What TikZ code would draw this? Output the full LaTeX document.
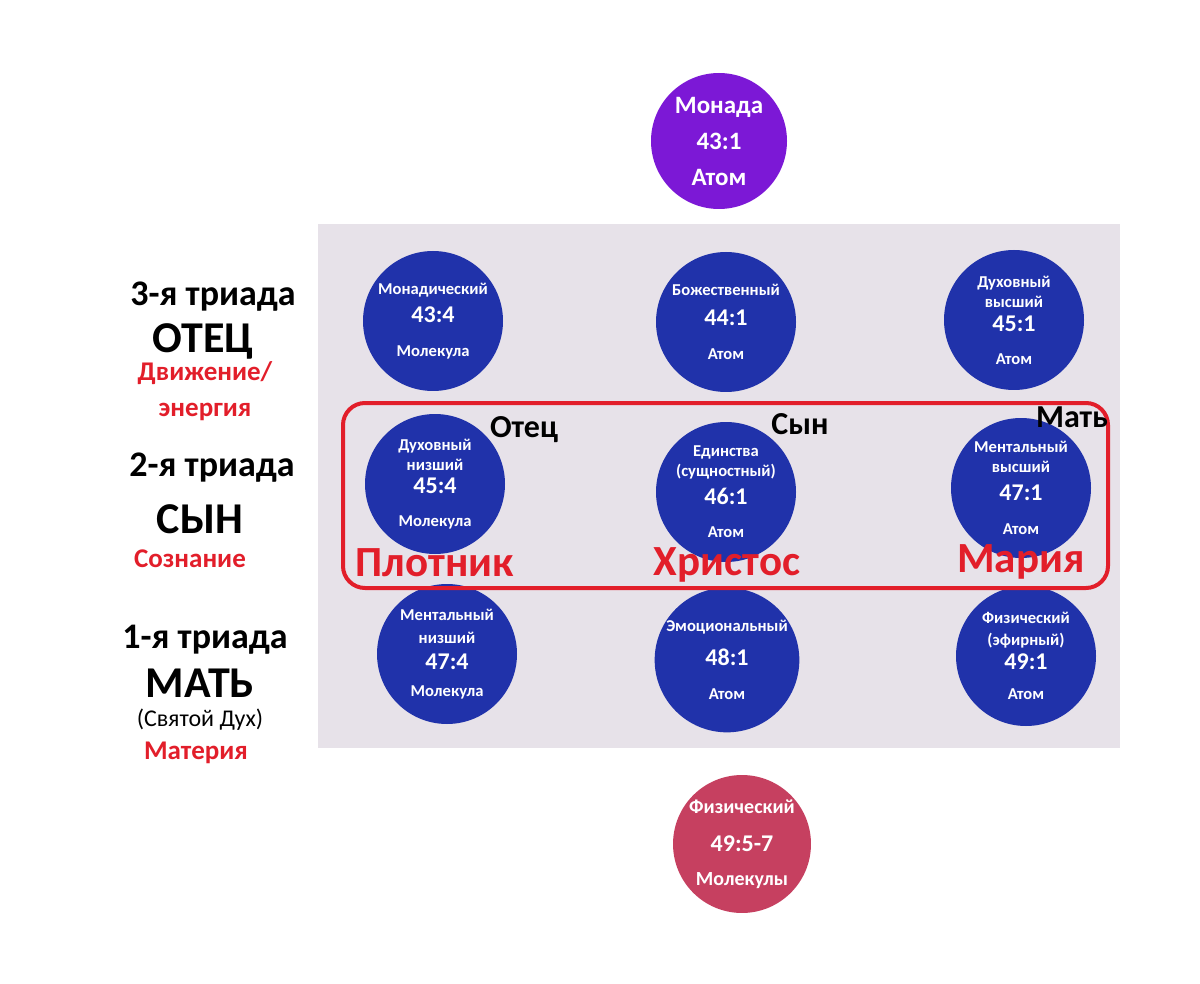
\documentclass[tikz,border=0pt]{standalone}
\usepackage{fontspec}
\setmainfont{Carlito}
\usetikzlibrary{positioning}
\definecolor{monadColor}{RGB}{124,24,214}
\definecolor{planeColor}{RGB}{32,50,170}
\definecolor{molColor}{RGB}{198,64,96}
\definecolor{panelColor}{RGB}{231,226,233}
\definecolor{accentColor}{RGB}{226,30,42}
\tikzstyle{plane} = [circle, minimum size=70pt, inner sep=0pt, align=center, fill=planeColor, text=white, font=\bfseries\fontsize{8.3}{10}\selectfont]
\tikzstyle{monad} = [plane, minimum size=68pt, fill=monadColor, font=\bfseries\fontsize{12.5}{12}\selectfont]
\tikzstyle{dense} = [plane, minimum size=68pt, fill=molColor, font=\bfseries\fontsize{10}{11}\selectfont]
\tikzstyle{triad} = [font=\bfseries\fontsize{18}{20}\selectfont]
\tikzstyle{person} = [inner sep=1pt, font=\bfseries\fontsize{22}{24}\selectfont]
\tikzstyle{quality} = [text=accentColor, align=center, font=\bfseries\fontsize{13.5}{18}\selectfont]
\tikzstyle{rolelabel} = [font=\bfseries\fontsize{16}{18}\selectfont]
\tikzstyle{figname} = [text=accentColor, font=\bfseries\fontsize{21.5}{24}\selectfont]
\tikzstyle{frame} = [draw=accentColor, line width=2pt, rounded corners=11pt]
\newcommand{\pnum}[1]{{\fontsize{12}{10}\selectfont #1}}

\begin{document}
\begin{tikzpicture}[x=0.5pt, y=-0.5pt]
            \useasboundingbox (0,0) rectangle (1200,984);
            \fill [panelColor] (318,224) rectangle (1120,748);

            % monad and dense physical
            \node (monad) [monad] at (719,141) {Монада\\[6pt]43:1\\[6pt]Атом};
            \node (phys) [dense] at (742,844) {Физический\\[8pt]{\fontsize{12}{11}\selectfont 49:5-7}\\[6pt]Молекулы};

            % triads
            \node (m31) [plane] at (433,321) {Монадический\\[4pt]\pnum{43:4}\\[7pt]Молекула};
            \node (m32) [plane] at (726,322) {Божественный\\[5pt]\pnum{44:1}\\[7pt]Атом};
            \node (m33) [plane] at (1014,320) {Духовный\\высший\\[2pt]\pnum{45:1}\\[6.5pt]Атом};
            \node (m21) [plane] at (435,484) {Духовный\\низший\\[1.5pt]\pnum{45:4}\\[6.5pt]Молекула};
            \node (m22) [plane] at (726,492) {Единства\\(сущностный)\\[4pt]\pnum{46:1}\\[6.5pt]Атом};
            \node (m23) [plane] at (1021,488) {Ментальный\\высший\\[4pt]\pnum{47:1}\\[7pt]Атом};
            \node (m11) [plane] at (447,654) {Ментальный\\[1.5pt]низший\\[3pt]\pnum{47:4}\\[3.5pt]Молекула};
            \node (m12) [plane] at (727,660) {Эмоциональный\\[7pt]\pnum{48:1}\\[7pt]Атом};
            \node (m13) [plane] at (1026,656) {Физический\\[1pt](эфирный)\\[2pt]\pnum{49:1}\\[5pt]Атом};

            \draw [frame] (343,403) rectangle (1108,588);

            % left column
            \node (t3) [triad] at (213,297) {3-я триада};
            \node (father) [person] at (203,341) {ОТЕЦ};
            \node (motion) [quality] at (205,391) {Движение/\\энергия};
            \node (t2) [triad] at (212,468) {2-я триада};
            \node (son) [person] at (200,519) {СЫН};
            \node (mind) [quality] at (190,559) {Сознание};
            \node (t1) [triad] at (205,640) {1-я триада};
            \node (mother) [person] at (200,683) {МАТЬ};
            \node (spirit) [inner sep=1pt, font=\fontsize{12}{14}\selectfont] at (200,720) {(Святой Дух)};
            \node (matter) [quality] at (196,753) {Материя};

            % names in the frame
            \node (fatherTag) [rolelabel] at (524,430) {Отец};
            \node (sonTag) [rolelabel] at (800,424) {Сын};
            \node (motherTag) [rolelabel] at (1072,417) {Мать};
            \node (carpenter) [figname] at (435,563) {Плотник};
            \node (christ) [figname] at (727,565) {Христос};
            \node (mary) [figname] at (1021,562) {Мария};
        \end{tikzpicture}
\end{document}
